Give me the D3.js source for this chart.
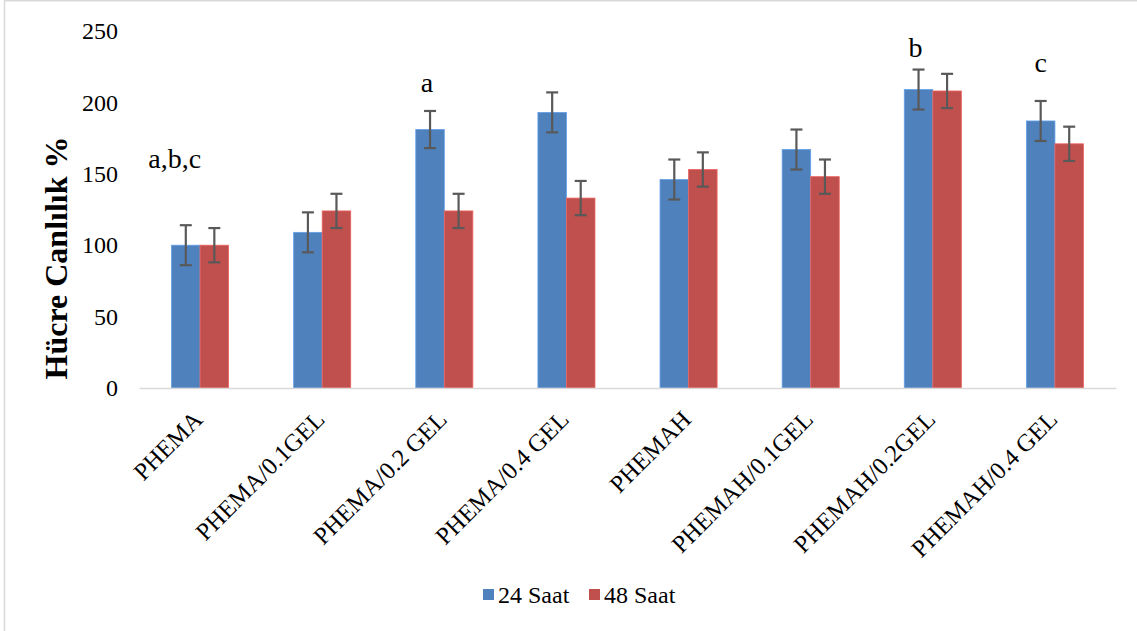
<!DOCTYPE html>
<html>
<head>
<meta charset="utf-8">
<script src="https://cdn.jsdelivr.net/npm/d3@7"></script>
<style>
  html, body { margin: 0; padding: 0; background: #fff; }
  svg { display: block; }
  text { font-family: "Liberation Serif", "Times New Roman", serif; fill: #000; }
</style>
</head>
<body>
<svg id="chart" width="1137" height="631"></svg>
<script>
// Cell viability (%) after 24 h and 48 h for each hydrogel formulation
const categories = ["PHEMA", "PHEMA/0.1GEL", "PHEMA/0.2 GEL", "PHEMA/0.4 GEL",
                    "PHEMAH", "PHEMAH/0.1GEL", "PHEMAH/0.2GEL", "PHEMAH/0.4 GEL"];
const seriesNames = ["24 Saat", "48 Saat"];
const values24 = [100, 109, 181, 193, 146, 167, 209, 187];
const values48 = [100, 124, 124, 133, 153, 148, 208, 171];
const errors24 = [14, 14, 13, 14, 14, 14, 14, 14];
const errors48 = [12, 12, 12, 12, 12, 12, 12, 12];
const yTicks = [0, 50, 100, 150, 200, 250];
// significance letters: category index and label
const marks = [
  { cat: 0, text: "a,b,c" },
  { cat: 2, text: "a" },
  { cat: 6, text: "b" },
  { cat: 7, text: "c" }
];

const colors = ["#4f81bd", "#c0504d"];
const svg = d3.select("#chart");

// outer chart border
svg.append("rect")
  .attr("x", 4.5).attr("y", 0.75)
  .attr("width", 1150).attr("height", 650)
  .attr("fill", "none").attr("stroke", "#d9d9d9").attr("stroke-width", 1.5);

const x0 = d3.scaleBand().domain(categories).range([139, 1116]).paddingInner(0).paddingOuter(0);
const x1 = d3.scaleBand().domain(seriesNames).range([0, x0.bandwidth()])
  .paddingInner(0).paddingOuter(1.14);
const y = d3.scaleLinear().domain([0, 250]).range([388, 31]);

const rows = categories.map((c, i) => ({
  cat: c,
  items: [
    { s: seriesNames[0], v: values24[i], e: errors24[i], color: colors[0] },
    { s: seriesNames[1], v: values48[i], e: errors48[i], color: colors[1] }
  ]
}));

// y axis tick labels (no axis line, no gridlines)
const yAxis = svg.append("g").attr("transform", "translate(118,0)")
  .call(d3.axisLeft(y).tickValues(yTicks).tickSize(0).tickPadding(0));
yAxis.select(".domain").remove();
yAxis.selectAll("text")
  .attr("font-size", 24)
  .style("font-family", '"Liberation Serif", "Times New Roman", serif')
  .attr("fill", "#000");

// bars
const groups = svg.append("g").selectAll("g").data(rows).join("g")
  .attr("transform", d => `translate(${x0(d.cat)},0)`);

groups.selectAll("rect").data(d => d.items).join("rect")
  .attr("x", d => x1(d.s))
  .attr("y", d => y(d.v))
  .attr("width", x1.bandwidth())
  .attr("height", d => y(0) - y(d.v))
  .attr("fill", d => d.color)
  .attr("stroke", d => d3.color(d.color).brighter(0.6))
  .attr("stroke-width", 0.8);

// x axis line
const xAxis = svg.append("g").attr("transform", `translate(0,${y(0)})`)
  .call(d3.axisBottom(x0).tickSize(0).tickFormat(""));
xAxis.select(".domain").attr("stroke", "#d9d9d9").attr("stroke-width", 1.5);

// error bars
const capHalf = 6;
const eb = groups.selectAll("g.err").data(d => d.items).join("g").attr("class", "err")
  .attr("stroke", "#595959").attr("stroke-width", 2.2);
eb.append("line")
  .attr("x1", d => x1(d.s) + x1.bandwidth() / 2)
  .attr("x2", d => x1(d.s) + x1.bandwidth() / 2)
  .attr("y1", d => y(d.v + d.e)).attr("y2", d => y(d.v - d.e));
eb.append("line")
  .attr("x1", d => x1(d.s) + x1.bandwidth() / 2 - capHalf)
  .attr("x2", d => x1(d.s) + x1.bandwidth() / 2 + capHalf)
  .attr("y1", d => y(d.v + d.e)).attr("y2", d => y(d.v + d.e));
eb.append("line")
  .attr("x1", d => x1(d.s) + x1.bandwidth() / 2 - capHalf)
  .attr("x2", d => x1(d.s) + x1.bandwidth() / 2 + capHalf)
  .attr("y1", d => y(d.v - d.e)).attr("y2", d => y(d.v - d.e));

// rotated category labels
svg.append("g").selectAll("text").data(categories).join("text")
  .attr("transform", d => `translate(${x0(d) + x0.bandwidth() / 2 + 4},${y(0) + 33}) rotate(-45)`)
  .attr("text-anchor", "end")
  .attr("font-size", 24.5)
  .text(d => d);

// significance letters above the 24 h bars
const markLift = { 0: 154, 2: 207, 6: 232, 7: 221 };
const markShift = { 0: -11, 2: -3, 6: -3, 7: 0 };
svg.append("g").selectAll("text").data(marks).join("text")
  .attr("x", d => x0(categories[d.cat]) + x1(seriesNames[0]) + x1.bandwidth() / 2 + markShift[d.cat])
  .attr("y", d => y(markLift[d.cat]))
  .attr("text-anchor", "middle")
  .attr("font-size", 28)
  .text(d => d.text);

// y axis title
svg.append("text")
  .attr("transform", "translate(67,258) rotate(-90)")
  .attr("text-anchor", "middle")
  .attr("font-size", 32)
  .attr("font-weight", "bold")
  .text("Hücre Canlılık %");

// legend
const legend = svg.append("g");
const legendX = [483, 589];
seriesNames.forEach((s, i) => {
  legend.append("rect")
    .attr("x", legendX[i]).attr("y", 589)
    .attr("width", 11).attr("height", 11)
    .attr("fill", colors[i]);
  legend.append("text")
    .attr("x", legendX[i] + 15).attr("y", 603)
    .attr("font-size", 24)
    .text(s);
});
</script>
</body>
</html>
